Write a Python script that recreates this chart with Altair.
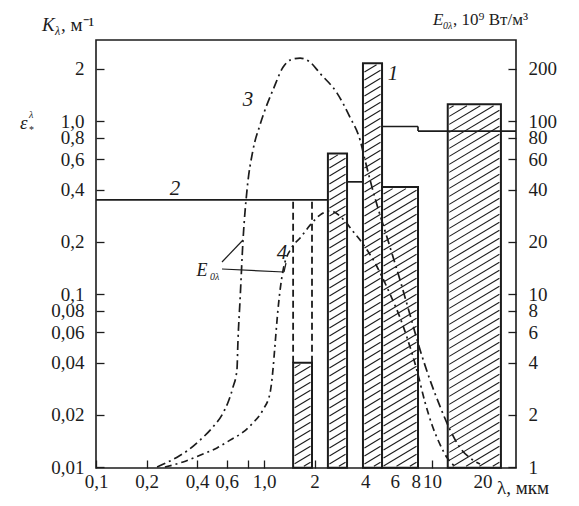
import altair as alt
import pandas as pd
import numpy as np

# ---------------- data ----------------
# curve 1: absorption bands K_lambda (hatched bars), lambda in um
band_lo = [1.49, 2.40, 3.88, 5.04, 12.4]
band_hi = [1.93, 3.12, 5.04, 8.25, 25.7]
band_k = [0.040, 0.65, 2.16, 0.415, 1.25]
K_BASE = 0.0099

# dashed continuation of the first band
dash_lam = [1.49, 1.93]
dash_k_from = 0.040
dash_k_to = 0.35

# curve 2: emissivity (step line)
c2_lo = [0.1, 3.12, 5.04, 8.25]
c2_hi = [2.40, 3.88, 8.25, 31.6]
c2_k = [0.35, 0.445, 0.93, 0.875]

# curve 3: E_0lambda (10^9 W/m^3), hotter
c3_lam = [0.231, 0.304, 0.353, 0.416, 0.490, 0.570, 0.611, 0.654, 0.690, 0.700,
          0.720, 0.750, 0.792, 0.860, 0.946, 1.04, 1.13, 1.30, 1.43, 1.64,
          1.88, 2.15, 2.72, 3.25, 3.73, 3.99, 4.39, 5.62, 6.45, 7.40,
          8.49, 9.73, 11.2, 12.8, 14.7, 16.8, 19.3]
c3_E = [1.0, 1.14, 1.25, 1.43, 1.68, 2.05, 2.37, 2.90, 3.64, 5.42,
        9.23, 20.5, 39.9, 68, 94.8, 124, 151, 205, 225, 231,
        219, 189, 145, 105, 77.6, 59.5, 41.5, 18.7, 12.05, 7.56,
        4.75, 3.18, 2.22, 1.64, 1.29, 1.13, 1.04]

# curve 4: E_0lambda, cooler
c4_lam = [0.257, 0.330, 0.416, 0.525, 0.628, 0.750, 0.860, 0.986, 1.086, 1.13,
          1.16, 1.21, 1.30, 1.47, 1.64, 1.88, 2.15, 2.47, 3.03, 3.34,
          3.73, 4.58, 5.62, 6.45, 7.10, 8.14, 9.08, 10.0, 11.2, 12.3, 13.7]
c4_E = [1.0, 1.07, 1.17, 1.29, 1.43, 1.59, 1.80, 2.14, 2.68, 3.64,
        4.94, 8.08, 13.8, 18.7, 21.1, 25.0, 28.6, 30.2, 26.4, 23.4,
        20.5, 15.1, 10.0, 7.3, 5.6, 3.6, 2.37, 1.75, 1.34, 1.13, 1.01]

x_ticks = [0.1, 0.2, 0.4, 0.6, 0.8, 1, 2, 4, 6, 8, 10, 20]
k_ticks = [0.01, 0.02, 0.04, 0.06, 0.08, 0.1, 0.2, 0.4, 0.6, 0.8, 1, 2]
e_ticks = [1, 2, 4, 6, 8, 10, 20, 40, 60, 80, 100, 200]

# ---------------- derived tables ----------------
bars = pd.DataFrame({"lo": band_lo, "hi": band_hi, "k": band_k, "base": K_BASE})

PX_X, PX_Y = 168.0, 173.0  # px per decade, used only to make hatch look diagonal


def hatch(lo, hi, top, base, slope=0.6, step=8.0):
    u0, u1 = PX_X * np.log10(lo) + 1.5, PX_X * np.log10(hi) - 1.5
    v0, v1 = PX_Y * np.log10(base) + 1.5, PX_Y * np.log10(top) - 1.5
    out = []
    c = v0 - slope * u1 + step / 2
    while c < v1 - slope * u0:
        ua = max(u0, (v0 - c) / slope)
        ub = min(u1, (v1 - c) / slope)
        if ub > ua:
            out.append({
                "x1": 10 ** (ua / PX_X), "x2": 10 ** (ub / PX_X),
                "y1": 10 ** ((slope * ua + c) / PX_Y), "y2": 10 ** ((slope * ub + c) / PX_Y),
            })
        c += step
    return out


hrows = []
for lo, hi, k in zip(band_lo, band_hi, band_k):
    hrows += hatch(lo, hi, k, K_BASE)
hatch_df = pd.DataFrame(hrows)

dash_df = pd.DataFrame({"x": dash_lam, "y1": dash_k_from, "y2": dash_k_to})

seg = []
for i in range(len(c2_lo)):
    seg.append({"x1": c2_lo[i], "x2": c2_hi[i], "y1": c2_k[i], "y2": c2_k[i]})
    if i + 1 < len(c2_lo) and abs(c2_hi[i] - c2_lo[i + 1]) < 1e-9:
        seg.append({"x1": c2_hi[i], "x2": c2_hi[i], "y1": c2_k[i], "y2": c2_k[i + 1]})
c2_df = pd.DataFrame(seg)

c3_df = pd.DataFrame({"lam": c3_lam, "E": c3_E})
c4_df = pd.DataFrame({"lam": c4_lam, "E": c4_E})

# ---------------- scales / axes ----------------
FONT = "Liberation Serif"
INK = "#1c1c1c"
xs = alt.Scale(type="log", domain=[0.1, 31.6], nice=False)
ks = alt.Scale(type="log", domain=[0.00987, 2.94], nice=False)
es = alt.Scale(type="log", domain=[0.987, 294], nice=False)

common_axis = dict(tickSize=8, offset=-8, domain=False, grid=False, title=None,
                   labelFont=FONT, labelFontSize=19, labelColor=INK,
                   tickColor=INK, tickWidth=1.3, labelOverlap=False, labelFlush=False)

xaxis = alt.Axis(values=x_ticks, labelPadding=4,
                 labelExpr="datum.value == 0.8 ? '' : (datum.value == 1 ? '1,0' : replace(format(datum.value, '~g'), '.', ','))",
                 **common_axis)
kaxis = alt.Axis(values=k_ticks, orient="left", labelPadding=12, labelBaseline="middle",
                 labelExpr="datum.value == 1 ? '1,0' : replace(format(datum.value, '~g'), '.', ',')",
                 **common_axis)
eaxis = alt.Axis(values=e_ticks, orient="right", labelPadding=12, labelBaseline="middle",
                 labelExpr="format(datum.value, '~g')", **common_axis)

X = lambda f: alt.X(f, type="quantitative", scale=xs, axis=xaxis)

bar_layer = alt.Chart(bars).mark_rect(fill="white", stroke=INK, strokeWidth=2).encode(
    x=X("lo"), x2="hi",
    y=alt.Y("base:Q", scale=ks, axis=kaxis), y2="k")

hatch_layer = alt.Chart(hatch_df).mark_rule(color=INK, strokeWidth=1.1).encode(
    x=X("x1"), x2="x2", y=alt.Y("y1:Q", scale=ks, axis=None), y2="y2")

dash_layer = alt.Chart(dash_df).mark_rule(color=INK, strokeWidth=1.8, strokeDash=[7, 4]).encode(
    x=X("x"), y=alt.Y("y1:Q", scale=ks, axis=None), y2="y2")

c2_layer = alt.Chart(c2_df).mark_rule(color=INK, strokeWidth=1.7).encode(
    x=X("x1"), x2="x2", y=alt.Y("y1:Q", scale=ks, axis=None), y2="y2")

c3_layer = alt.Chart(c3_df).mark_line(color=INK, strokeWidth=1.7, strokeDash=[9, 4, 2, 4],
                                      interpolate="monotone", clip=True).encode(
    x=X("lam"), y=alt.Y("E:Q", scale=es, axis=eaxis), order="lam:Q")

c4_layer = alt.Chart(c4_df).mark_line(color=INK, strokeWidth=1.7, strokeDash=[7, 4, 2, 4],
                                      interpolate="monotone", clip=True).encode(
    x=X("lam"), y=alt.Y("E:Q", scale=es, axis=None), order="lam:Q")

one = pd.DataFrame({"a": [0]})


def txt(s, x, y, size=19, italic=False, align="left", baseline="alphabetic"):
    return alt.Chart(one).mark_text(text=s, font=FONT, fontSize=size, color=INK,
                                    fontStyle="italic" if italic else "normal",
                                    align=align, baseline=baseline).encode(
        x=alt.value(x), y=alt.value(y))


def seg_line(x1, y1, x2, y2):
    return alt.Chart(one).mark_rule(color=INK, strokeWidth=1.2).encode(
        x=alt.value(x1), y=alt.value(y1), x2=alt.value(x2), y2=alt.value(y2))


# plot-area origin is at page (96, 40)
annotations = [
    # left title  K_lambda, m^-1
    txt("K", -54, -9, 19, True),
    txt("λ", -41, -5, 12, True),
    txt(", м⁻¹", -35, -9, 19),
    # right title E_0lambda, 10^9 W/m^3
    txt("E", 337, -15, 17, True),
    txt("0λ", 347, -11, 10, True),
    txt(", 10⁹ Вт/м³", 357, -15, 17),
    # epsilon label on the left axis
    txt("ε", -76, 89, 19, True),
    txt("λ", -67, 78, 10, True),
    txt("*", -67, 93, 10),
    # x-axis unit
    txt("λ, мкм", 401, 454, 19),
    # curve numbers
    txt("1", 297, 40, 21, True, "center"),
    txt("2", 79, 155, 21, True, "center"),
    txt("3", 152, 66, 21, True, "center"),
    txt("4", 186, 219, 21, True, "center"),
    txt("E", 106, 236, 18, True, "center"),
    txt("0λ", 114, 240, 10, True),
    seg_line(126, 222, 147, 200),
    seg_line(126, 229, 188, 232),
    seg_line(188, 232, 190, 223),
]

chart = alt.layer(bar_layer, hatch_layer, dash_layer, c2_layer, c3_layer, c4_layer,
                  *annotations).resolve_scale(y="independent").properties(
    width=420, height=428,
    autosize=alt.AutoSizeParams(type="none"),
    padding={"left": 88, "top": 32, "right": 54, "bottom": 34},
    background="white",
).configure_view(stroke=INK, strokeWidth=1.6)

chart.save("out.html", embed_options={"renderer": "svg", "actions": False})
